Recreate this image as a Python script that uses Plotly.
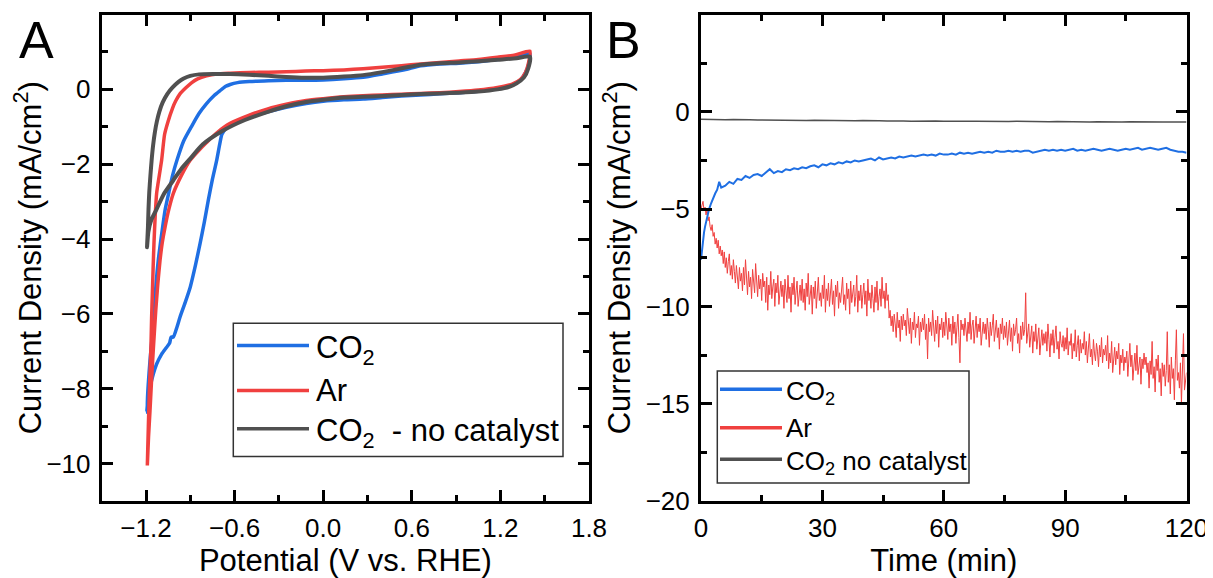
import plotly.graph_objects as go

# ---------------- Panel A: cyclic voltammograms ----------------
cv_co2_v = [1.40, 1.30, 1.18, 1.05, 0.92, 0.79, 0.66, 0.55, 0.40, 0.27, 0.14, 0.00, -0.12, -0.25, -0.37, -0.50,
            -0.58, -0.63, -0.66, -0.70, -0.74, -0.79, -0.84, -0.89, -0.945, -0.99, -1.02, -1.045, -1.071, -1.095,
            -1.117, -1.132, -1.144, -1.158, -1.173, -1.185, -1.195,
            -1.185, -1.173, -1.15, -1.128, -1.095, -1.06, -1.04, -1.03, -1.015, -0.99, -0.97, -0.935, -0.90,
            -0.865, -0.834, -0.805, -0.778, -0.75, -0.721, -0.70, -0.686, -0.66, -0.63, -0.58, -0.50, -0.375,
            -0.25, -0.115, 0.00, 0.14, 0.27, 0.40, 0.53, 0.66, 0.79, 0.92, 1.05, 1.18, 1.28, 1.335, 1.37, 1.39, 1.40]
cv_co2_j = [0.95, 0.86, 0.80, 0.74, 0.70, 0.68, 0.63, 0.52, 0.41, 0.32, 0.28, 0.25, 0.24, 0.24, 0.23, 0.21,
            0.18, 0.13, 0.08, -0.04, -0.17, -0.38, -0.64, -0.98, -1.38, -1.89, -2.30, -2.75, -3.23, -3.90,
            -4.57, -5.20, -5.91, -6.60, -7.25, -7.90, -8.63,
            -8.20, -7.96, -7.60, -7.34, -7.08, -6.89, -6.78, -6.62, -6.62, -6.35, -6.09, -5.70, -5.28,
            -4.70, -4.12, -3.55, -2.96, -2.40, -1.89, -1.45, -1.20, -1.05, -0.97, -0.87, -0.74, -0.60,
            -0.48, -0.38, -0.32, -0.28, -0.26, -0.22, -0.18, -0.15, -0.12, -0.09, -0.05, 0.02, 0.12, 0.25, 0.45, 0.65, 0.95]

cv_ar_v = [1.40, 1.30, 1.18, 1.05, 0.92, 0.79, 0.66, 0.53, 0.40, 0.27, 0.14, 0.00, -0.12, -0.25, -0.37, -0.50,
           -0.63, -0.72, -0.79, -0.85, -0.89, -0.93, -0.97, -1.00, -1.02, -1.05, -1.074, -1.094, -1.11, -1.128,
           -1.138, -1.146, -1.152, -1.157, -1.162, -1.166, -1.172, -1.178, -1.184, -1.191,
           -1.183, -1.173, -1.164, -1.155, -1.145, -1.134, -1.12, -1.105, -1.09, -1.071, -1.045, -1.015, -0.96,
           -0.90, -0.84, -0.79, -0.72, -0.63, -0.50, -0.375, -0.25, -0.115, 0.00, 0.14, 0.27, 0.40, 0.53, 0.66,
           0.79, 0.92, 1.05, 1.18, 1.28, 1.335, 1.37, 1.39, 1.40]
cv_ar_j = [1.02, 0.92, 0.86, 0.80, 0.76, 0.72, 0.68, 0.63, 0.59, 0.55, 0.52, 0.50, 0.49, 0.47, 0.46, 0.45,
           0.43, 0.41, 0.36, 0.28, 0.18, 0.04, -0.12, -0.32, -0.50, -0.85, -1.20, -1.89, -2.30, -2.78,
           -3.40, -4.12, -4.80, -5.46, -6.10, -6.80, -7.50, -8.14, -9.00, -10.05,
           -9.30, -8.59, -7.90, -7.25, -6.60, -5.91, -5.20, -4.57, -4.10, -3.68, -3.20, -2.78, -2.30,
           -1.89, -1.62, -1.42, -1.16, -0.91, -0.69, -0.52, -0.40, -0.30, -0.25, -0.20, -0.17, -0.15, -0.13, -0.11,
           -0.09, -0.06, -0.02, 0.05, 0.14, 0.26, 0.45, 0.70, 1.02]

cv_nocat_v = [1.40, 1.31, 1.18, 1.05, 0.92, 0.79, 0.66, 0.61, 0.54, 0.48, 0.40, 0.27, 0.14, 0.00, -0.12, -0.25,
              -0.37, -0.50, -0.63, -0.74, -0.84, -0.90, -0.945, -0.98, -1.02, -1.055, -1.087, -1.11, -1.126,
              -1.14, -1.152, -1.162, -1.17, -1.178, -1.183, -1.187, -1.193,
              -1.184, -1.165, -1.128, -1.08, -1.015, -0.96, -0.90, -0.815, -0.686, -0.53, -0.375, -0.25, -0.115,
              0.00, 0.143, 0.27, 0.40, 0.53, 0.66, 0.79, 0.92, 1.05, 1.18, 1.26, 1.31, 1.36, 1.388, 1.40]
cv_nocat_j = [0.875, 0.83, 0.79, 0.75, 0.72, 0.70, 0.66, 0.62, 0.57, 0.52, 0.46, 0.38, 0.34, 0.31, 0.31, 0.33,
              0.36, 0.39, 0.41, 0.41, 0.40, 0.36, 0.29, 0.20, 0.05, -0.12, -0.35, -0.60, -0.85,
              -1.15, -1.50, -1.90, -2.30, -2.75, -3.20, -3.70, -4.22,
              -3.81, -3.50, -3.20, -2.80, -2.43, -2.12, -1.85, -1.47, -1.12, -0.82, -0.60, -0.45, -0.34,
              -0.28, -0.22, -0.20, -0.18, -0.15, -0.125, -0.11, -0.09, -0.06, 0.00, 0.07, 0.16, 0.32, 0.55, 0.875]

cv_xticks = [-1.2, -0.6, 0.0, 0.6, 1.2, 1.8]
cv_xticktext = ["\u22121.2", "\u22120.6", "0.0", "0.6", "1.2", "1.8"]
cv_xminor = [-1.5, -0.9, -0.3, 0.3, 0.9, 1.5]
cv_yticks = [-10, -8, -6, -4, -2, 0]
cv_yticktext = ["\u221210", "\u22128", "\u22126", "\u22124", "\u22122", "0"]
cv_yminor = [-11, -9, -7, -5, -3, -1, 1]

# ---------------- Panel B: chronoamperometry ----------------
ca_red_t = [i * 0.25 for i in range(481)]
ca_red_j = [
    -5.0, -4.8, -4.6, -5.1, -4.9, -5.3, -5.0, -5.6, -5.4, -5.9, -6.1, -5.8, -6.4, -6.2, -6.8, -6.5, -7.0, -6.6, -7.3, -6.9,
    -7.4, -7.1, -7.8, -7.2, -8.0, -7.5, -8.3, -7.7, -7.3, -8.4, -7.9, -8.6, -7.6, -8.2, -8.8, -7.9, -8.5, -9.1, -8.0, -8.7,
    -8.3, -9.2, -8.0, -8.9, -7.6, -8.7, -9.4, -8.2, -9.0, -8.5, -9.6, -8.1, -8.8, -9.3, -7.8, -8.9, -9.5, -8.4, -9.1, -8.6,
    -9.7, -8.3, -9.0, -8.7, -9.8, -8.5, -10.2, -8.9, -9.4, -8.2, -9.6, -9.0, -8.6, -10.0, -8.8, -9.3, -8.4, -9.9, -9.1, -8.7,
    -9.5, -8.9, -10.1, -8.6, -9.2, -9.8, -8.4, -9.6, -9.0, -10.3, -8.8, -9.4, -8.5, -9.9, -9.2, -8.7, -10.0, -9.3, -8.9, -9.7,
    -8.6, -9.8, -9.1, -10.2, -8.8, -9.5, -8.3, -9.9, -9.4, -8.9, -10.4, -9.0, -9.6, -8.7, -10.1, -9.2, -8.5, -9.7, -9.3, -10.0,
    -8.9, -9.6, -8.4, -10.3, -9.1, -9.7, -8.8, -10.0, -9.4, -8.6, -9.9, -9.2, -10.5, -8.9, -9.5, -8.7, -10.1, -9.3, -9.8, -9.0,
    -8.5, -9.9, -9.4, -10.2, -8.8, -9.6, -9.1, -10.4, -8.7, -9.8, -9.3, -8.9, -10.0, -9.5, -8.4, -10.3, -9.2, -9.7, -8.9, -10.1,
    -9.4, -8.8, -9.9, -9.2, -10.5, -8.6, -9.7, -9.3, -10.1, -8.9, -9.6, -10.3, -9.0, -9.8, -8.7, -10.2, -9.5, -9.1, -10.0, -8.5,
    -9.6, -9.2, -10.1, -8.8, -9.7, -9.4, -10.6, -10.2, -11.0, -10.5, -11.3, -10.4, -10.9, -11.6, -10.3, -11.1, -10.7, -11.8, -10.5, -11.2,
    -10.4, -11.0, -10.7, -11.5, -10.1, -10.9, -11.4, -10.6, -11.9, -10.8, -11.2, -10.3, -11.6, -10.9, -11.1, -10.5, -12.0, -10.8, -11.3, -10.6,
    -11.2, -10.4, -11.7, -10.9, -12.7, -10.6, -11.3, -10.8, -11.5, -10.2, -11.0, -11.8, -10.7, -11.4, -10.5, -12.1, -10.9, -11.2, -10.6, -11.6,
    -10.8, -11.5, -10.3, -11.1, -11.7, -10.6, -11.3, -10.9, -12.0, -10.5, -11.4, -10.8, -11.9, -11.1, -10.4, -11.6, -12.9, -10.7, -11.2, -10.9,
    -11.5, -10.6, -11.2, -11.8, -10.8, -11.4, -10.3, -11.7, -11.0, -10.7, -11.9, -11.2, -10.5, -11.6, -10.9, -11.3, -10.6, -12.0, -11.1, -10.8,
    -11.4, -10.9, -11.7, -10.6, -11.2, -12.1, -10.8, -11.5, -11.0, -10.4, -11.8, -11.3, -10.7, -11.6, -11.1, -12.2, -10.9, -11.4, -10.6, -11.7,
    -11.0, -11.6, -10.8, -12.0, -11.3, -10.7, -11.8, -11.1, -12.3, -10.9, -11.5, -11.2, -10.6, -11.9, -11.4, -12.4, -11.0, -11.7, -10.8, -11.5,
    -11.2, -9.3, -11.9, -11.4, -10.9, -12.1, -11.6, -11.0, -12.4, -11.3, -11.8, -10.9, -12.2, -11.5, -11.1, -12.5, -11.7, -11.2, -12.0, -11.4,
    -11.9, -11.3, -12.3, -10.9, -11.7, -12.6, -11.4, -12.0, -11.2, -12.4, -11.6, -11.0, -12.2, -11.8, -12.7, -11.3, -11.9, -12.1, -11.5, -12.3,
    -11.6, -12.2, -11.1, -12.5, -11.8, -12.0, -11.4, -12.7, -11.9, -12.3, -11.2, -12.6, -12.0, -11.5, -12.8, -11.7, -12.4, -11.9, -12.2, -11.3,
    -12.5, -11.8, -12.9, -12.1, -11.4, -12.6, -12.2, -13.0, -11.7, -12.4, -12.8, -11.9, -12.3, -13.1, -12.0, -12.6, -11.6, -12.9, -12.2, -12.5,
    -12.0, -12.8, -11.5, -13.2, -12.4, -12.9, -11.8, -13.4, -12.6, -12.1, -13.0, -12.3, -12.7, -11.9, -13.5, -12.5, -12.9, -12.2, -13.3, -12.6,
    -12.9, -12.3, -13.6, -12.7, -11.9, -13.1, -12.5, -13.8, -12.8, -12.4, -13.3, -12.0, -13.5, -12.9, -12.6, -14.0, -12.7, -13.2, -12.4, -13.0,
    -12.6, -13.4, -12.9, -14.2, -12.8, -13.5, -11.8, -13.7, -13.1, -14.4, -12.7, -13.3, -12.5, -13.9, -13.2, -14.6, -12.9, -13.6, -13.0, -14.1,
    -13.3, -11.3, -13.9, -13.0, -14.5, -12.6, -13.7, -13.2, -14.8, -12.8, -11.2, -13.8, -13.4, -14.2, -12.9, -15.0, -13.5, -11.4, -14.3, -13.6,
    -13.4]

ca_blue_t = [0, 0.25, 0.5, 0.75, 1, 1.5, 2, 2.5, 3, 3.5, 4, 4.5] + list(range(5, 121))
ca_blue_j = [
    -7.6, -7.0, -6.6, -6.2, -5.9, -5.4, -5.0, -4.7, -4.4, -4.2, -4.0, -3.6,
    -3.9, -3.8, -3.6, -3.7, -3.45, -3.5, -3.3, -3.4, -3.25, -3.2,
    -3.3, -3.1, -2.95, -3.15, -3.05, -3.1, -2.95, -3.0, -2.9, -2.95,
    -2.85, -2.9, -2.8, -2.75, -2.85, -2.7, -2.75, -2.65, -2.7, -2.6,
    -2.65, -2.55, -2.6, -2.5, -2.55, -2.5, -2.45, -2.4, -2.5, -2.35,
    -2.45, -2.4, -2.35, -2.4, -2.3, -2.35, -2.3, -2.25, -2.3, -2.25,
    -2.2, -2.25, -2.2, -2.25, -2.15, -2.2, -2.2, -2.15, -2.2, -2.1,
    -2.15, -2.1, -2.15, -2.1, -2.05, -2.1, -2.05, -2.1, -2.0, -2.05,
    -2.05, -2.0, -2.05, -2.0, -2.05, -2.0, -2.0, -2.1, -2.05, -2.0,
    -1.95, -2.0, -1.95, -2.0, -1.95, -2.0, -1.95, -1.9, -2.0, -1.95,
    -2.0, -1.95, -1.9, -1.95, -2.0, -1.95, -1.9, -1.95, -2.0, -1.95,
    -1.9, -1.95, -1.9, -1.85, -1.95, -1.9, -1.85, -1.9, -1.95, -1.9,
    -1.85, -1.95, -2.0, -2.05, -2.05, -2.1]

ca_gray_t = list(range(0, 121, 2))
ca_gray_j = [
    -0.38, -0.40, -0.39, -0.41, -0.40, -0.42, -0.41, -0.42, -0.43, -0.42,
    -0.44, -0.43, -0.44, -0.45, -0.44, -0.45, -0.44, -0.46, -0.45, -0.46,
    -0.45, -0.47, -0.46, -0.47, -0.46, -0.47, -0.48, -0.47, -0.48, -0.47,
    -0.48, -0.49, -0.48, -0.49, -0.48, -0.49, -0.50, -0.49, -0.50, -0.49,
    -0.50, -0.51, -0.50, -0.51, -0.50, -0.51, -0.50, -0.51, -0.52, -0.51,
    -0.52, -0.51, -0.52, -0.51, -0.52, -0.53, -0.52, -0.53, -0.52, -0.53,
    -0.53]

ca_xticks = [0, 30, 60, 90, 120]
ca_xticktext = ["0", "30", "60", "90", "120"]
ca_xminor = [15, 45, 75, 105]
ca_yticks = [-20, -15, -10, -5, 0]
ca_yticktext = ["\u221220", "\u221215", "\u221210", "\u22125", "0"]
ca_yminor = [-17.5, -12.5, -7.5, -2.5, 2.5]

legend_a_labels = ["CO<sub>2</sub>", "Ar", "CO<sub>2</sub>  - no catalyst"]
legend_b_labels = ["CO<sub>2</sub>", "Ar", "CO<sub>2</sub> no catalyst"]

BLUE = "#1F6FE3"
RED = "#F0403F"
GRAY = "#505050"

# The page places the figure 8 px in from the top-left corner of the window;
# positions below are given in window pixels and shifted by OFF.
OFF = 8
W, H = 1213 - OFF, 578 - OFF
ML, MR, MT, MB = 101 - OFF, 26 - OFF, 14 - OFF, 77
PW, PH = W - ML - MR, H - MT - MB


def px(x):
    return (x - OFF - ML) / PW


def py(y):
    return (H - MB - (y - OFF)) / PH


def clamp(v):
    return min(1.0, max(0.0, v))


fig = go.Figure()
fig.add_trace(go.Scatter(x=cv_co2_v, y=cv_co2_j, mode="lines", line=dict(color=BLUE, width=3.5, shape="spline", smoothing=0.6),
                         xaxis="x", yaxis="y", showlegend=False))
fig.add_trace(go.Scatter(x=cv_ar_v, y=cv_ar_j, mode="lines", line=dict(color=RED, width=3.5, shape="spline", smoothing=0.6),
                         xaxis="x", yaxis="y", showlegend=False))
fig.add_trace(go.Scatter(x=cv_nocat_v, y=cv_nocat_j, mode="lines", line=dict(color=GRAY, width=4, shape="spline", smoothing=0.6),
                         xaxis="x", yaxis="y", showlegend=False))

fig.add_trace(go.Scatter(x=ca_gray_t, y=ca_gray_j, mode="lines", line=dict(color=GRAY, width=1.5),
                         xaxis="x2", yaxis="y2", showlegend=False))
fig.add_trace(go.Scatter(x=ca_red_t, y=ca_red_j, mode="lines", line=dict(color=RED, width=1),
                         xaxis="x2", yaxis="y2", showlegend=False))
fig.add_trace(go.Scatter(x=ca_blue_t, y=ca_blue_j, mode="lines", line=dict(color=BLUE, width=2),
                         xaxis="x2", yaxis="y2", showlegend=False))

TICKF = dict(size=26, color="black")
TITLEF = dict(size=31, color="black")


def axis_common():
    return dict(ticks="inside", ticklen=11, tickwidth=2.5, tickcolor="black",
                showline=True, linewidth=3, linecolor="black", mirror="allticks",
                showgrid=False, zeroline=False, tickfont=TICKF, tickmode="array", automargin=False)


def minor(vals):
    return dict(ticks="inside", ticklen=6, tickwidth=2.5, tickcolor="black", tickmode="array",
                tickvals=vals, showgrid=False)


xa = axis_common()
xa.update(domain=[clamp(px(101.7)), clamp(px(589))], range=[-1.5, 1.8], tickvals=cv_xticks, ticktext=cv_xticktext,
          minor=minor(cv_xminor), ticklabelstandoff=2,
          title=dict(text="Potential (V vs. RHE)", font=TITLEF, standoff=6), anchor="y")
ya = axis_common()
ya.update(domain=[clamp(py(501)), clamp(py(14.5))], range=[-11, 2], tickvals=cv_yticks, ticktext=cv_yticktext,
          minor=minor(cv_yminor), ticklabelstandoff=3,
          title=dict(text="Current Density (mA/cm<sup>2</sup>)", font=TITLEF, standoff=6), anchor="x")
xb = axis_common()
xb.update(domain=[clamp(px(701)), clamp(px(1186.5))], range=[0, 120], tickvals=ca_xticks, ticktext=ca_xticktext,
          minor=minor(ca_xminor), ticklabelstandoff=2,
          title=dict(text="Time (min)", font=TITLEF, standoff=6), anchor="y2")
yb = axis_common()
yb.update(domain=[clamp(py(501)), clamp(py(14.5))], range=[-20, 5], tickvals=ca_yticks, ticktext=ca_yticktext,
          minor=minor(ca_yminor), ticklabelstandoff=3,
          title=dict(text="Current Density (mA/cm<sup>2</sup>)", font=TITLEF, standoff=6), anchor="x2")

shapes = []
annotations = []

# Panel letters
annotations.append(dict(text="A", x=px(36), y=py(40), xref="paper", yref="paper", showarrow=False,
                        font=dict(size=52, color="black"), xanchor="center", yanchor="middle"))
annotations.append(dict(text="B", x=px(623), y=py(40), xref="paper", yref="paper", showarrow=False,
                        font=dict(size=52, color="black"), xanchor="center", yanchor="middle"))

# Legend A
shapes.append(dict(type="rect", xref="paper", yref="paper", x0=px(233.3), x1=px(563), y0=py(456.5), y1=py(323.3),
                   line=dict(color="#333333", width=1.5), fillcolor="white", layer="above"))
rows_a = [345.5, 390.5, 428.8]
for lab, col, yy in zip(legend_a_labels, [BLUE, RED, GRAY], rows_a):
    shapes.append(dict(type="line", xref="paper", yref="paper", x0=px(237), x1=px(309), y0=py(yy), y1=py(yy),
                       line=dict(color=col, width=3.5), layer="above"))
    annotations.append(dict(text=lab, x=px(314), y=py(yy + 4 if "sub" in lab else yy), xref="paper", yref="paper",
                            showarrow=False, xanchor="left", yanchor="middle", font=dict(size=31, color="black")))

# Legend B
shapes.append(dict(type="rect", xref="paper", yref="paper", x0=px(717.3), x1=px(969), y0=py(483), y1=py(371),
                   line=dict(color="#333333", width=1.5), fillcolor="white", layer="above"))
rows_b = [389.3, 427.7, 459.3]
for lab, col, yy in zip(legend_b_labels, [BLUE, RED, GRAY], rows_b):
    shapes.append(dict(type="line", xref="paper", yref="paper", x0=px(720), x1=px(782), y0=py(yy), y1=py(yy),
                       line=dict(color=col, width=3.5), layer="above"))
    annotations.append(dict(text=lab, x=px(784), y=py(yy + 3.5 if "sub" in lab else yy), xref="paper", yref="paper",
                            showarrow=False, xanchor="left", yanchor="middle", font=dict(size=26, color="black")))

fig.update_layout(
    width=W, height=H, margin=dict(l=ML, r=MR, t=MT, b=MB, autoexpand=False),
    paper_bgcolor="white", plot_bgcolor="white",
    font=dict(family="Liberation Sans, Arial, sans-serif", color="black"),
    showlegend=False,
    xaxis=xa, yaxis=ya, xaxis2=xb, yaxis2=yb,
    shapes=shapes, annotations=annotations,
)

fig.write_html("out.html")
